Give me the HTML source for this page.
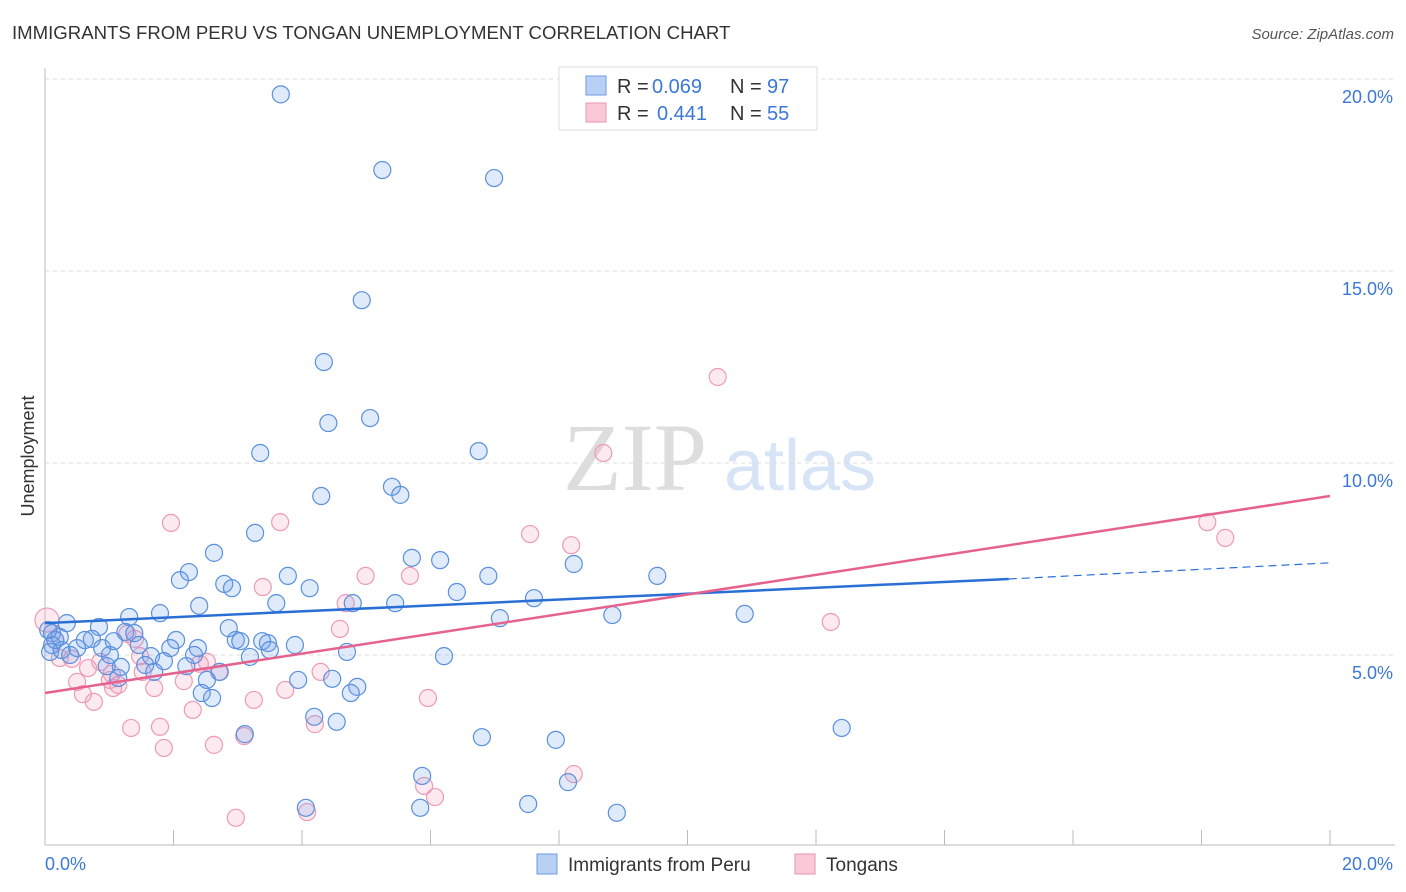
<!DOCTYPE html>
<html><head><meta charset="utf-8"><style>
body{margin:0;background:#fff;font-family:"Liberation Sans",sans-serif;}
#wrap{position:relative;width:1406px;height:892px;overflow:hidden;}
</style></head><body>
<div id="wrap">
<svg id="svg" width="1406" height="892" xmlns="http://www.w3.org/2000/svg">
<text x="12" y="39" font-size="18.6" fill="#333">IMMIGRANTS FROM PERU VS TONGAN UNEMPLOYMENT CORRELATION CHART</text>
<text x="1394" y="39" font-size="15" fill="#555" font-style="italic" text-anchor="end">Source: ZipAtlas.com</text>
<text x="34" y="456" font-size="18" fill="#333" text-anchor="middle" transform="rotate(-90 34 456)">Unemployment</text>
<g><text x="635" y="490" font-size="96" fill="#ddd" text-anchor="middle" font-family="Liberation Serif,serif">ZIP</text><text x="800" y="490" font-size="72" fill="#d6e4f5" text-anchor="middle">atlas</text></g>
<g id="grid"></g><g id="axes"></g><g id="pts"></g><g id="trend"></g>
<g>
<rect x="559" y="67" width="258" height="63" fill="#fff" stroke="#ddd"/>
<rect x="586" y="76" width="20" height="19" fill="#b8d0f4" stroke="#6b9be0"/>
<rect x="586" y="103" width="20" height="19" fill="#f9c9d8" stroke="#e993b0"/>
<text x="617" y="93" font-size="20" fill="#333">R =</text>
<text x="652" y="93" font-size="20" fill="#3b78d8">0.069</text>
<text x="730" y="93" font-size="20" fill="#333">N =</text>
<text x="767" y="93" font-size="20" fill="#3b78d8">97</text>
<text x="617" y="120" font-size="20" fill="#333">R =</text>
<text x="657" y="120" font-size="20" fill="#3b78d8">0.441</text>
<text x="730" y="120" font-size="20" fill="#333">N =</text>
<text x="767" y="120" font-size="20" fill="#3b78d8">55</text>
</g>
<g>
<rect x="537" y="854" width="20" height="20" fill="#b8d0f4" stroke="#6b9be0"/>
<text x="568" y="871" font-size="19" fill="#333">Immigrants from Peru</text>
<rect x="795" y="854" width="20" height="20" fill="#f9c9d8" stroke="#e993b0"/>
<text x="826" y="871" font-size="19" fill="#333">Tongans</text>
</g>
</svg></div>
<script>
const blueX=[3.67,5.25,6.99,4.93,4.34,4.41,5.06,3.35,6.75,4.30,5.40,5.53,3.27,2.63,5.71,6.15,8.23,2.24,2.10,3.78,6.90,9.53,2.79,2.91,4.12,6.41,7.61,2.40,3.60,4.79,5.45,1.79,1.31,7.08,8.83,10.89,0.34,0.84,1.25,1.39,2.86,0.11,0.23,0.73,1.07,2.04,2.97,3.04,3.38,3.47,3.89,0.11,0.50,0.89,1.46,1.95,2.38,3.50,0.08,0.26,4.70,1.65,2.32,3.19,6.21,1.85,0.96,1.18,2.20,1.56,2.72,1.70,1.14,2.52,3.94,4.47,2.44,2.60,4.86,4.76,4.19,4.54,3.11,6.80,7.95,12.40,5.87,8.14,4.06,5.84,7.52,8.90,0.16,0.05,0.62,0.39,1.01];
const blueY=[19.6,17.63,17.42,14.24,12.63,11.04,11.17,10.26,10.31,9.14,9.38,9.17,8.18,7.66,7.53,7.47,7.37,7.16,6.95,7.06,7.06,7.06,6.85,6.74,6.74,6.64,6.48,6.28,6.35,6.35,6.35,6.09,5.99,5.96,6.04,6.07,5.83,5.73,5.60,5.57,5.70,5.57,5.47,5.42,5.36,5.39,5.39,5.36,5.36,5.31,5.26,5.26,5.18,5.18,5.26,5.18,5.18,5.13,5.08,5.13,5.08,4.97,5.00,4.95,4.97,4.84,4.71,4.69,4.71,4.74,4.56,4.56,4.40,4.35,4.35,4.38,4.01,3.88,4.17,4.01,3.39,3.26,2.94,2.86,2.79,3.10,1.85,1.69,1.02,1.02,1.12,0.89,5.39,5.65,5.39,5.00,5.00];
const pinkX=[0.03,10.47,8.69,1.96,3.66,7.55,8.19,18.09,18.37,4.99,5.68,3.39,4.68,12.23,4.59,1.28,0.16,0.23,0.42,1.48,0.86,0.67,1.04,2.41,2.52,2.71,4.29,1.52,0.50,1.01,1.14,2.16,1.06,1.70,3.74,0.59,0.76,3.25,5.96,2.30,1.34,1.79,4.20,3.10,1.85,2.63,8.23,5.90,6.07,4.08,2.97,1.40];
const pinkY=[5.91,12.24,10.26,8.44,8.46,8.15,7.86,8.46,8.05,7.06,7.06,6.77,6.35,5.86,5.68,5.55,5.39,4.92,4.90,4.97,4.82,4.66,4.51,4.77,4.82,4.56,4.56,4.56,4.30,4.35,4.22,4.32,4.14,4.14,4.09,3.98,3.78,3.83,3.88,3.57,3.10,3.13,3.20,2.89,2.58,2.66,1.90,1.59,1.30,0.91,0.76,5.42];
const yTicks=[5,10,15,20];
const yTickLabels=["5.0%","10.0%","15.0%","20.0%"];
const blueTrend=[5.83,6.98,7.40];
const pinkTrend=[4.01,9.14];
const NS="http://www.w3.org/2000/svg";
const sx=v=>45+v*64.25, sy=v=>847-v*38.4;
function mk(p,t,a){const e=document.createElementNS(NS,t);for(const k in a)e.setAttribute(k,a[k]);document.getElementById(p).appendChild(e);return e;}
yTicks.forEach((t,i)=>{
 let l=mk('grid','line',{x1:45,x2:1395,y1:sy(t),y2:sy(t),stroke:'#ddd','stroke-dasharray':'4,4'});
 
 
 let tx=mk('grid','text',{x:1393,y:sy(t)+24,'font-size':18,fill:'#3b78d8','text-anchor':'end'});tx.textContent=yTickLabels[i];
 
 
});
let ax=mk('axes','line',{x1:45,x2:1395,y1:845,y2:845,stroke:'#bbb'});


let ay=mk('axes','line',{x1:45,x2:45,y1:68,y2:845,stroke:'#bbb'});


for(let i=0;i<=10;i++){let t=mk('axes','line',{x1:sx(i*2),x2:sx(i*2),y1:830,y2:845,stroke:'#bbb'});
 
 }
let x0=mk('axes','text',{x:45,y:870,'font-size':18,fill:'#3b78d8'});x0.textContent="0.0%";


let x1=mk('axes','text',{x:1393,y:870,'font-size':18,fill:'#3b78d8','text-anchor':'end'});x1.textContent="20.0%";


pinkX.forEach((x,i)=>{let c=mk('pts','circle',{cx:sx(x),cy:sy(pinkY[i]),r:i==0?12:8.5,fill:'rgba(244,160,188,0.22)',stroke:'#ee9ab5','stroke-width':1.2});
 
 });
blueX.forEach((x,i)=>{let c=mk('pts','circle',{cx:sx(x),cy:sy(blueY[i]),r:8.5,fill:'rgba(110,160,235,0.22)',stroke:'#5a90dc','stroke-width':1.2});
 
 });
let b1=mk('trend','line',{x1:sx(0),y1:sy(blueTrend[0]),x2:sx(15),y2:sy(blueTrend[1]),stroke:'#2a6fd6','stroke-width':2.5});


let b2=mk('trend','line',{x1:sx(15),y1:sy(blueTrend[1]),x2:sx(20),y2:sy(blueTrend[2]),stroke:'#2a6fd6','stroke-width':1.2,'stroke-dasharray':'8,5'});


let p1=mk('trend','line',{x1:sx(0),y1:sy(pinkTrend[0]),x2:sx(20),y2:sy(pinkTrend[1]),stroke:'#e5628f','stroke-width':2.5});


</script>
</body></html>
